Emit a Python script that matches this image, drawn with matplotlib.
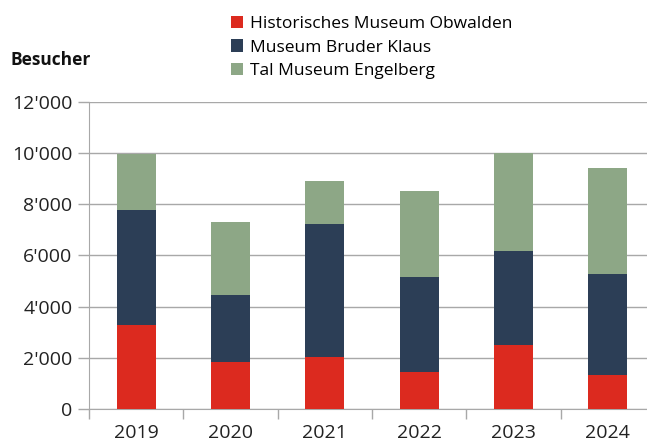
import numpy as np
import matplotlib.pyplot as plt
from matplotlib.ticker import FuncFormatter, FixedLocator

plt.rcParams['font.family'] = ['Open Sans', 'DejaVu Sans']

years = ['2019', '2020', '2021', '2022', '2023', '2024']
historisches = [3290, 1850, 2020, 1460, 2500, 1330]
bruder_klaus = [4480, 2610, 5200, 3700, 3680, 3950]
tal_museum = [2190, 2830, 1680, 3380, 3820, 4130]
labels = ['Historisches Museum Obwalden', 'Museum Bruder Klaus', 'Tal Museum Engelberg']
colors = ['#dc2a1f', '#2c3e56', '#8da786']

fig = plt.figure(figsize=(6.47, 4.41), dpi=100)
ax = fig.add_axes([89 / 647, 32 / 441, 566 / 647, 307 / 441])

x = np.arange(len(years))
bottom = np.zeros(len(years))
handles = []
for vals, c, lab in zip([historisches, bruder_klaus, tal_museum], colors, labels):
    b = ax.bar(x, vals, 0.41, bottom=bottom, color=c, label=lab, zorder=3)
    handles.append(b)
    bottom += np.array(vals)

ax.set_xlim(-0.5, len(years) - 0.5)
ax.set_ylim(0, 12000)
ax.set_yticks(np.arange(0, 12001, 2000))
ax.yaxis.set_major_formatter(FuncFormatter(lambda v, p: f"{int(v):,}".replace(',', "'")))
ax.grid(axis='y', color='#a8a8a8', linewidth=1, zorder=0)

ax.set_xticks(x)
ax.set_xticklabels(years)
ax.xaxis.set_minor_locator(FixedLocator(np.arange(-0.5, len(years), 1)))
ax.tick_params(axis='x', which='major', length=0, pad=11, labelsize=14, colors='#222222')
ax.tick_params(axis='x', which='minor', length=7, color='#a8a8a8', width=1)
ax.tick_params(axis='y', length=8, color='#a8a8a8', width=1, pad=4, labelsize=14, labelcolor='#222222')

for s in ['top', 'right']:
    ax.spines[s].set_visible(False)
for s in ['left', 'bottom']:
    ax.spines[s].set_color('#a8a8a8')

fig.text(10 / 647, 1 - 60 / 441, 'Besucher', fontsize=12.5, fontweight='bold', va='center', color='#111111')

fig.legend(handles=handles, labels=labels, loc='upper left', bbox_to_anchor=(231 / 647, 1 - 16 / 441),
           frameon=False, fontsize=12.5, handlelength=0.7, handleheight=0.7, handletextpad=0.4,
           labelspacing=0.42, borderaxespad=0, borderpad=0)

fig.savefig('out.png', dpi=100)
